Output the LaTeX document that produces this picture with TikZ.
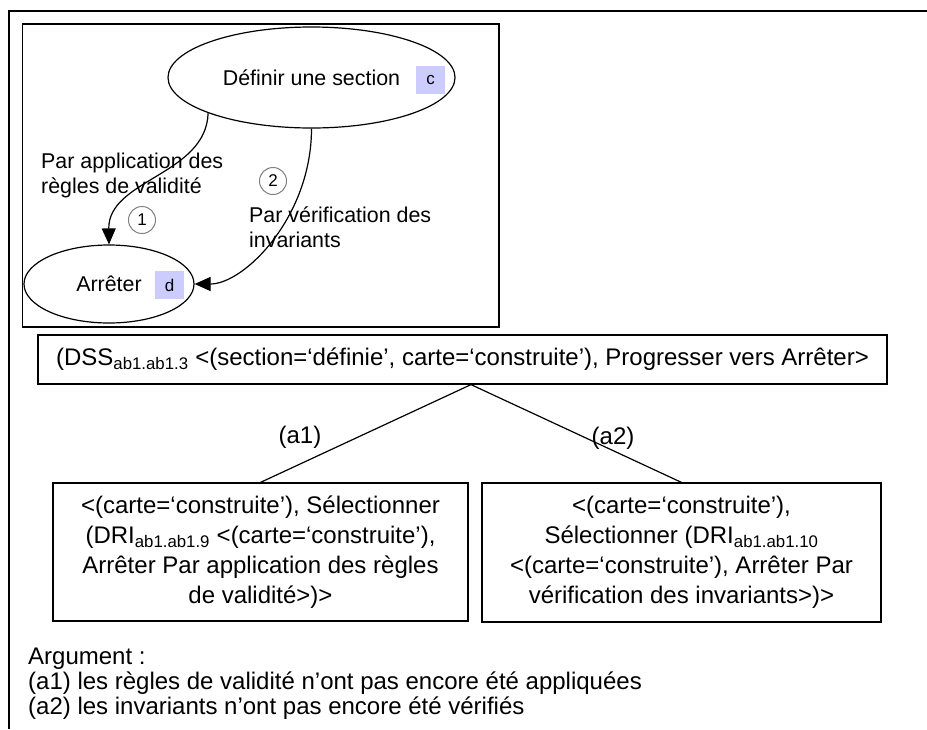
\documentclass[tikz,border=0pt]{standalone}
\usepackage{fontspec}
\setmainfont{Liberation Sans}
\usetikzlibrary{arrows.meta,shapes.geometric}

\begin{document}
\begin{tikzpicture}[x=1pt, y=-1pt,
  phase/.style={draw, ellipse, line width=1.2pt, inner sep=0pt,
    font=\fontsize{21.4}{25}\selectfont},
  tagbox/.style={fill=blue!20, minimum width=29pt, minimum height=28pt,
    inner sep=0pt, font=\fontsize{17}{18}\selectfont},
  strat/.style={anchor=west, align=left, inner sep=0pt,
    font=\fontsize{21.4}{25}\selectfont},
  num/.style={circle, draw=gray, line width=1pt, minimum size=27pt,
    inner sep=0pt, font=\fontsize{17}{18}\selectfont},
  goal/.style={draw, line width=1.2pt, align=center, inner sep=0pt,
    font=\fontsize{24}{30}\selectfont,
    execute at begin node=\setlength{\baselineskip}{30pt}},
  lab/.style={inner sep=0pt, font=\fontsize{24}{28}\selectfont},
  note/.style={anchor=base west, inner sep=0pt, font=\fontsize{24}{28}\selectfont},
  flow/.style={-{Triangle[length=16pt, width=14pt]}, line width=1.2pt},
  branch/.style={line width=1.2pt},
]
  \useasboundingbox (0,0) rectangle (927,729);
  % cadres
  \draw[line width=1.5pt] (927,11) -- (9,11) -- (9,729);
  \draw[line width=1.3pt] (22.7,24) rectangle (499,327);

  % carte : section et arret
  \node[phase, minimum width=287pt, minimum height=101pt] (def) at (311.5,77.5) {Définir une section};
  \node[tagbox] (c) at (430.5,80) {c};
  \node[phase, minimum width=170pt, minimum height=78pt] (arr) at (109,284) {Arrêter};
  \node[tagbox] (d) at (169.5,285) {d};

  \draw[flow] (def.199) .. controls +(-2,62) and +(-1,-65) .. (arr.north);
  \draw[flow] (def.south) .. controls +(0,88) and +(50,0) .. (arr.east);

  \node[strat] (r1) at (41,175.5) {Par application des\\règles de validité};
  \node[strat] (r2) at (249,227.5) {Par vérification des\\invariants};
  \node[num] (n1) at (142,220) {1};
  \node[num] (n2) at (273,181) {2};

  % arbre des strategies
  \node[goal, minimum width=849pt, minimum height=49pt] (dss) at (462.5,359.5)
    {(DSS\textsubscript{ab1.ab1.3} <(section=‘définie’, carte=‘construite’), Progresser vers Arrêter>};
  \coordinate (apex) at ([xshift=8.5pt]dss.south);

  \node[goal, minimum width=415pt, minimum height=138pt] (dri9) at (260.5,552)
    {<(carte=‘construite’), Sélectionner\\(DRI\textsubscript{ab1.ab1.9} <(carte=‘construite’),\\Arrêter Par application des règles\\de validité>)>};
  \node[goal, minimum width=399pt, minimum height=139pt] (dri10) at (681.5,552.5)
    {<(carte=‘construite’),\\Sélectionner (DRI\textsubscript{ab1.ab1.10}\\<(carte=‘construite’), Arrêter Par\\vérification des invariants>)>};

  \draw[branch] (apex) -- (dri9.north);
  \draw[branch] (apex) -- (dri10.north);
  \node[lab] (a1) at (300,437) {(a1)};
  \node[lab] (a2) at (613,438) {(a2)};

  % argument
  \node[note] (arg) at (28,664) {Argument :};
  \node[note] (arg1) at (28,689) {(a1) les règles de validité n’ont pas encore été appliquées};
  \node[note] (arg2) at (28,714) {(a2) les invariants n’ont pas encore été vérifiés};
\end{tikzpicture}
\end{document}
